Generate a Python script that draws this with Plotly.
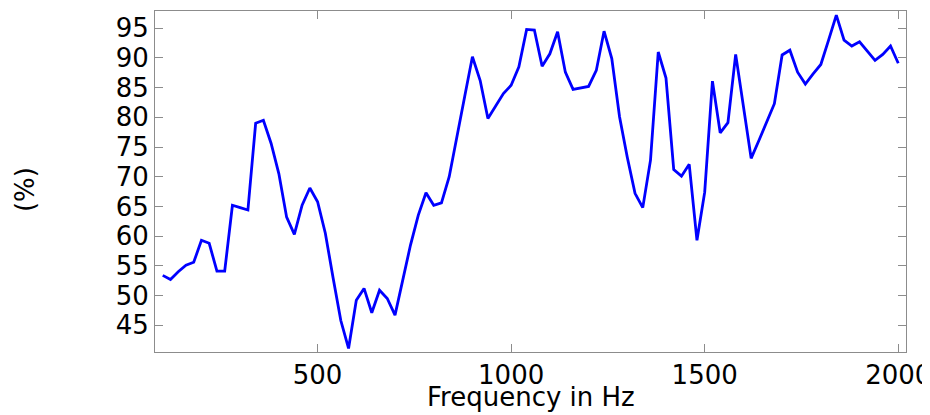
import plotly.graph_objects as go

freq_hz = [100 + 20 * i for i in range(96)]
absorption_pct = [
    53.4, 52.7, 54.0, 55.1, 55.6, 59.3, 58.8, 54.1, 54.1, 65.2,
    64.8, 64.4, 79.0, 79.5, 75.6, 70.5, 63.2, 60.3, 65.2, 68.1,
    65.8, 60.5, 53.0, 45.8, 41.1, 49.2, 51.2, 47.1, 50.9, 49.5,
    46.7, 52.5, 58.5, 63.5, 67.3, 65.2, 65.6, 70.0, 76.5, 83.5,
    90.2, 86.2, 79.8, 82.0, 84.0, 85.4, 88.5, 94.8, 94.7, 88.6,
    90.7, 94.4, 87.6, 84.7, 85.0, 85.2, 87.9, 94.5, 89.9, 80.1,
    73.3, 67.2, 64.8, 72.8, 91.0, 86.6, 71.2, 70.1, 72.1, 59.3,
    67.4, 86.1, 77.4, 79.1, 90.6, 81.8, 73.1, 76.1, 79.2, 82.3,
    90.5, 91.3, 87.6, 85.6, 87.3, 88.9, 93.0, 97.2, 93.0, 92.0,
    92.7, 91.2, 89.6, 90.6, 92.0, 89.1,
]
x_ticks = [500, 1000, 1500, 2000]
y_ticks = [45, 50, 55, 60, 65, 70, 75, 80, 85, 90, 95]

FONT = "DejaVu Sans"

fig = go.Figure()
fig.add_trace(go.Scatter(
    x=freq_hz, y=absorption_pct, mode="lines",
    line=dict(color="#0000ff", width=2.8),
    showlegend=False,
))

axis_common = dict(
    showline=True, linecolor="#8c8c8c", linewidth=1, mirror="ticks",
    ticks="inside", ticklen=8, tickcolor="#8c8c8c", tickwidth=1,
    showgrid=False, zeroline=False, automargin=False,
    ticklabeloverflow="allow",
    tickfont=dict(family=FONT, size=26, color="#000000"),
)

fig.update_layout(
    width=922, height=407,
    margin=dict(l=147, r=24, t=3, b=63),
    paper_bgcolor="white", plot_bgcolor="white",
    xaxis=dict(range=[80, 2020], tickvals=x_ticks, **axis_common),
    yaxis=dict(range=[40.5, 97.9], tickvals=y_ticks, **axis_common),
    annotations=[
        dict(text="Frequency in Hz", xref="paper", yref="paper",
             x=0.5, y=-0.133, xanchor="center", yanchor="middle",
             showarrow=False, font=dict(family=FONT, size=26, color="#000000")),
        dict(text="(%)", xref="paper", yref="paper",
             x=-0.173, y=0.475, xanchor="center", yanchor="middle",
             textangle=-90, showarrow=False,
             font=dict(family=FONT, size=26, color="#000000")),
    ],
)

fig.write_html("out.html")
